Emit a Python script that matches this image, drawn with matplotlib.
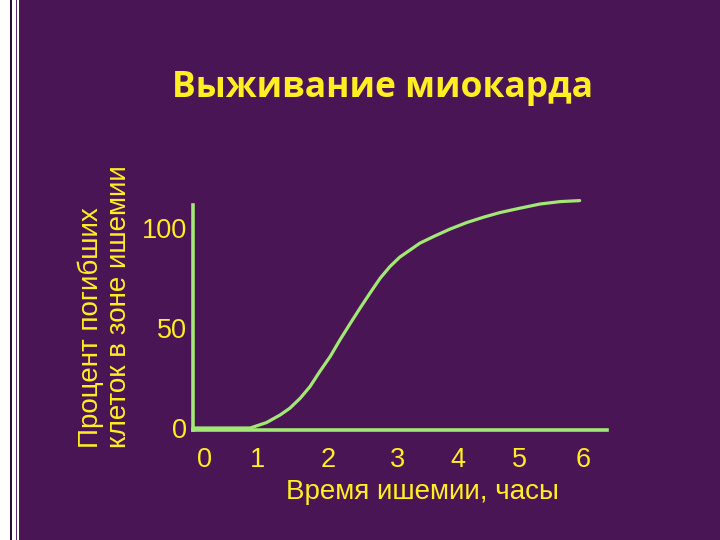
import matplotlib
matplotlib.use("Agg")
import matplotlib.pyplot as plt
from matplotlib.patches import Rectangle

# ---- data ----
hours = [0.0, 0.62, 0.88, 1.13, 1.34, 1.49, 1.65, 1.80, 1.95, 2.11, 2.26, 2.42,
         2.57, 2.72, 2.88, 3.03, 3.18, 3.34, 3.49, 3.70, 3.95, 4.21, 4.47, 4.72,
         5.03, 5.34, 5.65, 5.95]
dead_pct = [0, 0, 0, 2.7, 6.5, 9.9, 14.9, 20.7, 28.2, 35.7, 44, 52.3,
            59.9, 67.3, 74.9, 80.7, 85.4, 89, 92.4, 95.7, 99.4, 102.7, 105.4, 107.7,
            109.9, 112, 113.2, 113.7]

x_tick_pos = [0.17, 1.0, 2.08, 3.14, 4.08, 5.03, 6.0]
x_tick_lbl = ["0", "1", "2", "3", "4", "5", "6"]
y_tick_pos = [0, 50, 100]
y_tick_lbl = ["0", "50", "100"]

TITLE = "Выживание миокарда"
XLABEL = "Время ишемии, часы"
YLABEL = "Процент погибших\nклеток в зоне ишемии"

BG = "#4a1555"
YELLOW = "#ffee22"
GREEN = "#a2e874"

W, H = 720, 540
fig = plt.figure(figsize=(W / 100, H / 100), dpi=100, facecolor=BG)

# left decorative strip
fig.patches.append(Rectangle((0, 0), 19 / W, 1, transform=fig.transFigure,
                             facecolor="white", edgecolor="none", zorder=0))
fig.patches.append(Rectangle((9.5 / W, 0), 2 / W, 1, transform=fig.transFigure,
                             facecolor="#2a0a38", edgecolor="none", zorder=1))
fig.patches.append(Rectangle((15.5 / W, 0), 1.2 / W, 1, transform=fig.transFigure,
                             facecolor="#5a2a6a", edgecolor="none", zorder=1))

ax = fig.add_axes([193 / W, 1 - 430 / H, (607 - 193) / W, (430 - 205) / H])
ax.set_facecolor(BG)
ax.plot(hours, dead_pct, color=GREEN, linewidth=2.3, clip_on=False,
        solid_capstyle="round", solid_joinstyle="round", zorder=5)

ax.set_xlim(0, 6.37)
ax.set_ylim(-1, 111.5)

for side in ["top", "right"]:
    ax.spines[side].set_visible(False)
for side in ["left", "bottom"]:
    ax.spines[side].set_color(GREEN)
    ax.spines[side].set_linewidth(2.6)

ax.set_xticks(x_tick_pos)
ax.set_xticklabels(x_tick_lbl)
ax.set_yticks(y_tick_pos)
ax.set_yticklabels(y_tick_lbl)
ax.tick_params(length=0, labelsize=19.5, labelcolor=YELLOW)
ax.tick_params(axis="x", pad=12)
ax.tick_params(axis="y", pad=4)
for lbl in ax.get_xticklabels() + ax.get_yticklabels():
    lbl.set_fontfamily("Liberation Sans")

fig.text(382 / W, 1 - 88 / H, TITLE, color=YELLOW, fontsize=25.5,
         fontweight="bold", family="Open Sans", ha="center", va="center")
fig.text(422 / W, 1 - 492 / H, XLABEL, color=YELLOW, fontsize=20,
         family="Liberation Sans", ha="center", va="center")
fig.text(105 / W, 1 - 448 / H, YLABEL, color=YELLOW, fontsize=20,
         family="Liberation Sans", ha="center", va="bottom", rotation=90,
         multialignment="left", linespacing=1.12)

fig.savefig("out.png", dpi=100, facecolor=BG)
